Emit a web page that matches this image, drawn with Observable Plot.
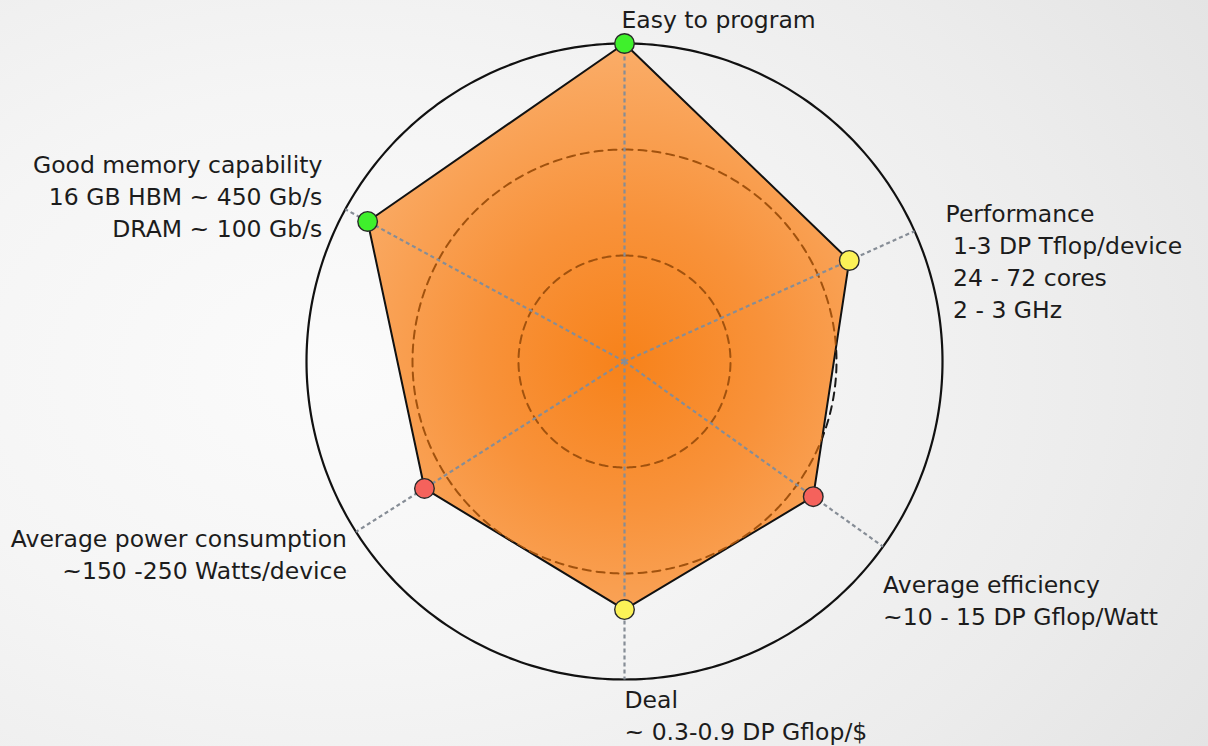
<!DOCTYPE html>
<html>
<head>
<meta charset="utf-8">
<script src="https://cdn.jsdelivr.net/npm/d3@7"></script>
<script src="https://cdn.jsdelivr.net/npm/@observablehq/plot@0.6"></script>
<style>
  html, body { margin: 0; padding: 0; }
  body {
    width: 1208px; height: 746px; overflow: hidden;
    background: radial-gradient(ellipse 85% 95% at 28% 50%, #fbfbfb 0%, #f5f5f5 40%, #ececec 75%, #e4e4e4 100%);
  }
  #chart svg { display: block; }
</style>
</head>
<body>
<div id="chart"></div>
<script>
// ---- data ----
const axisNames = [
  "Easy to program",
  "Performance",
  "Average efficiency",
  "Deal",
  "Average power consumption",
  "Good memory capability"
];
const axisDetails = [
  "",
  "\u00a01-3 DP Tflop/device\n\u00a024 - 72 cores\n\u00a02 - 3 GHz",
  "~10 - 15 DP Gflop/Watt",
  "~ 0.3-0.9 DP Gflop/$",
  "~150 -250 Watts/device",
  "16 GB HBM ~ 450 Gb/s\nDRAM ~ 100 Gb/s"
];
// axis direction, degrees clockwise from straight up
const axisAngles = [0, 65.8, 125.6, 180, 237.6, 298.6];
// score on each axis (0..1, outer circle = 1)
const scores = [1.0, 0.775, 0.73, 0.78, 0.745, 0.92];
const ratings = ["good", "medium", "poor", "medium", "poor", "good"];
const ringLevels = [1 / 3, 2 / 3];
const outerLevel = [1];

// ---- layout (label offsets in px from the axis end) ----
const labelLayout = [
  { anchor: "start", dx: -3, dy: -38 },
  { anchor: "start", dx: 31, dy: -32 },
  { anchor: "start", dx: 0, dy: 24 },
  { anchor: "start", dx: 0, dy: 6 },
  { anchor: "end", dx: -9, dy: -8 },
  { anchor: "end", dx: -23, dy: -59 }
];

const rad = (a) => (a * Math.PI) / 180;
const points = axisNames.map((name, i) => ({
  name,
  label: axisDetails[i] ? name + "\n" + axisDetails[i] : name,
  angle: axisAngles[i],
  value: scores[i],
  rating: ratings[i],
  x: scores[i] * Math.sin(rad(axisAngles[i])),
  y: scores[i] * Math.cos(rad(axisAngles[i]))
}));

function circlePoints(levels) {
  const out = [];
  for (const r of levels) {
    for (let a = 0; a <= 360; a += 1) {
      out.push({ ring: r, x: r * Math.sin(rad(a)), y: r * Math.cos(rad(a)) });
    }
  }
  return out;
}
const innerRings = circlePoints(ringLevels);
const outerRing = circlePoints(outerLevel);

const W = 1208, H = 746, R = 318, CX = 624, CY = 361;

const plot = Plot.plot({
  width: W,
  height: H,
  margin: 0,
  x: { domain: [-CX / R, (W - CX) / R], axis: null },
  y: { domain: [-(H - CY) / R, CY / R], axis: null },
  color: { domain: ["good", "medium", "poor"], range: ["#3ff02c", "#fcf257", "#f5625c"] },
  style: { background: "transparent", fontFamily: "'DejaVu Sans', sans-serif", fontSize: "23.5px", color: "#1c1c1c" },
  marks: [
    // dashed guide rings (black where not covered)
    Plot.line(innerRings, { x: "x", y: "y", z: "ring", stroke: "#1a1a1a", strokeWidth: 2, strokeDasharray: "8,6" }),
    // outer circle
    Plot.line(outerRing, { x: "x", y: "y", stroke: "#111", strokeWidth: 2.2 }),
    // filled polygon
    Plot.line(points, { x: "x", y: "y", curve: "linear-closed", fill: "url(#radarFill)", stroke: "#111", strokeWidth: 2 }),
    // brown rings visible through the fill
    Plot.line(innerRings, { x: "x", y: "y", z: "ring", stroke: "#a1520e", strokeWidth: 2, strokeDasharray: "8,6", className: "inner-rings" }),
    // spokes
    Plot.link(points, {
      x1: () => 0, y1: () => 0,
      x2: (d) => Math.sin(rad(d.angle)), y2: (d) => Math.cos(rad(d.angle)),
      stroke: "#868d96", strokeWidth: 2.2, strokeDasharray: "4,3"
    }),
    // score dots
    Plot.dot(points, { x: "x", y: "y", r: 9.8, fill: "rating", stroke: "#2a2a2a", strokeWidth: 1.4 }),
    // labels
    ...points.map((p, i) => Plot.text([p], {
      x: (d) => Math.sin(rad(d.angle)),
      y: (d) => Math.cos(rad(d.angle)),
      text: "label",
      textAnchor: labelLayout[i].anchor,
      lineAnchor: "top",
      lineHeight: 1.36,
      dx: labelLayout[i].dx,
      dy: labelLayout[i].dy,
      fill: "#1c1c1c",
      fontSize: 23.5
    }))
  ]
});

document.getElementById("chart").appendChild(plot);

// gradient + clip definitions built from the plot's own scales
const sx = plot.scale("x"), sy = plot.scale("y");
const svg = d3.select(plot);
const defs = svg.insert("defs", ":first-child");
const cx = sx.apply(0), cy = sy.apply(0), rr = sx.apply(1) - sx.apply(0);
const grad = defs.append("radialGradient")
  .attr("id", "radarFill")
  .attr("gradientUnits", "userSpaceOnUse")
  .attr("cx", cx).attr("cy", cy).attr("r", rr);
grad.append("stop").attr("offset", "0%").attr("stop-color", "#f7821a");
grad.append("stop").attr("offset", "45%").attr("stop-color", "#f8923a");
grad.append("stop").attr("offset", "100%").attr("stop-color", "#faad69");
defs.append("clipPath").attr("id", "polyClip")
  .append("path")
  .attr("d", d3.line().curve(d3.curveLinearClosed)(points.map((p) => [sx.apply(p.x), sy.apply(p.y)])));
svg.selectAll(".inner-rings").attr("clip-path", "url(#polyClip)");
</script>
</body>
</html>
